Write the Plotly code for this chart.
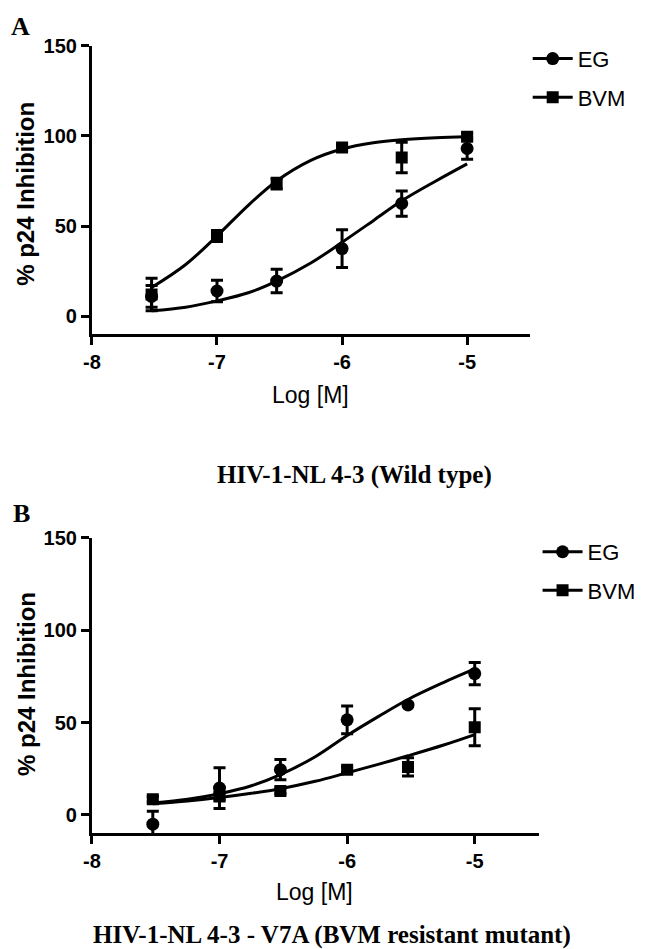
import plotly.graph_objects as go

# ---------------- data ----------------
log_conc = [-7.523, -7.0, -6.523, -6.0, -5.523, -5.0]

# Panel A (wild type)
a_eg_mean = [11, 14, 19.5, 37.5, 62.5, 93]
a_eg_err = [6, 6, 6.5, 10.5, 7, 6]
a_bvm_mean = [12, 44.5, 73.5, 93.5, 88, 99.5]
a_bvm_err = [9, 3, 3, 1.5, 8.5, 2]

# Panel B (V7A mutant)
b_eg_mean = [-5, 14.5, 24.5, 51.5, 59.5, 76.5]
b_eg_err = [7, 11, 5.5, 7.5, 1, 6]
b_bvm_mean = [8.5, 10, 13, 24.5, 26, 47.5]
b_bvm_err = [1.5, 2, 1.5, 1.5, 5, 10]

# fitted curves
curve_x = [-7.523, -7.25, -7.0, -6.75, -6.523, -6.25, -6.0, -5.75, -5.523, -5.25, -5.0]
a_eg_curve = [3, 5, 8.5, 13, 19.5, 29.5, 41, 53, 64, 75, 84.5]
a_bvm_curve = [15.9, 28.7, 44.5, 61.5, 75.0, 86.4, 92.7, 96.2, 97.9, 99.0, 99.5]
b_eg_curve = [6.5, 8.5, 11.5, 15.8, 21.8, 31.5, 43, 53.5, 62.5, 71.5, 79]
b_bvm_curve = [6, 7.5, 9.4, 11.7, 14.2, 18.2, 22.8, 27.5, 32, 37.7, 43.5]

x_ticks = [-8, -7, -6, -5]
x_tick_text = ["-8", "-7", "-6", "-5"]
y_ticks = [0, 50, 100, 150]
y_tick_text = ["0", "50", "100", "150"]

series_names = ["EG", "BVM"]
panel_letters = ["A", "B"]
captions = ["HIV-1-NL 4-3 (Wild type)", "HIV-1-NL 4-3 - V7A (BVM resistant mutant)"]
x_title = "Log [M]"
y_title = "% p24 Inhibition"

# ---------------- figure ----------------
PAGE_W, PAGE_H = 646, 949
OFF = 8  # default body margin of the html page
W, H = PAGE_W - OFF, PAGE_H - OFF
SANS = "Liberation Sans, Arial, sans-serif"
SERIF = "Liberation Serif, Times New Roman, serif"


def px(x):
    return (x - OFF) / W


def py(y):
    return 1 - (y - OFF) / H


fig = go.Figure()

panels = [
    dict(xa="x", ya="y", eg=(a_eg_mean, a_eg_err, a_eg_curve),
         bvm=(a_bvm_mean, a_bvm_err, a_bvm_curve), legend="legend"),
    dict(xa="x2", ya="y2", eg=(b_eg_mean, b_eg_err, b_eg_curve),
         bvm=(b_bvm_mean, b_bvm_err, b_bvm_curve), legend="legend2"),
]

for p in panels:
    for name, (mean, err, curve), sym, size in [
        ("EG", p["eg"], "circle", 13),
        ("BVM", p["bvm"], "square", 12),
    ]:
        fig.add_trace(go.Scatter(
            x=curve_x, y=curve, mode="lines", line=dict(color="black", width=3, shape="spline"),
            xaxis=p["xa"], yaxis=p["ya"], showlegend=False, hoverinfo="skip"))
        fig.add_trace(go.Scatter(
            x=log_conc, y=mean, mode="markers",
            marker=dict(symbol=sym, size=size, color="black"),
            error_y=dict(type="data", array=err, color="black", thickness=3, width=6),
            xaxis=p["xa"], yaxis=p["ya"], showlegend=False, name=name))
        # legend entry
        fig.add_trace(go.Scatter(
            x=[None], y=[None], mode="lines+markers", name=name,
            line=dict(color="black", width=3),
            marker=dict(symbol=sym, size=size, color="black"),
            xaxis=p["xa"], yaxis=p["ya"], legend=p["legend"], legendgroup=name + p["legend"]))

axis_common = dict(showline=True, linecolor="black", linewidth=3, ticks="outside", ticklen=8,
                   tickwidth=3, tickcolor="black", showgrid=False, zeroline=False,
                   tickfont=dict(family=SANS, size=20, color="black", weight="bold"))

fig.update_layout(
    width=W, height=H, margin=dict(l=0, r=0, t=0, b=0),
    paper_bgcolor="white", plot_bgcolor="white",
    xaxis=dict(domain=[px(84), px(528)], range=[-8, -4.5], anchor="y",
               tickvals=x_ticks, ticktext=x_tick_text, **axis_common),
    yaxis=dict(domain=[py(327), py(35)], range=[-10, 150], anchor="x",
               tickvals=y_ticks, ticktext=y_tick_text, **axis_common),
    xaxis2=dict(domain=[px(84), px(537)], range=[-8, -4.5], anchor="y2",
                tickvals=x_ticks, ticktext=x_tick_text, **axis_common),
    yaxis2=dict(domain=[py(832), py(533)], range=[-10, 150], anchor="x2",
                tickvals=y_ticks, ticktext=y_tick_text, **axis_common),
    legend=dict(x=px(526), y=py(27), xanchor="left", yanchor="top", itemwidth=40,
                font=dict(family=SANS, size=22, color="black"), bgcolor="rgba(0,0,0,0)",
                tracegroupgap=7),
    legend2=dict(x=px(536), y=py(526), xanchor="left", yanchor="top", itemwidth=40,
                 font=dict(family=SANS, size=22, color="black"), bgcolor="rgba(0,0,0,0)",
                 tracegroupgap=7),
    showlegend=True,
)

ann = []
# panel letters
for letter, (lx, ly) in zip(panel_letters, [(12, 16), (13, 508)]):
    ann.append(dict(text=letter, x=px(lx), y=py(ly), xref="paper", yref="paper",
                    xanchor="center", yanchor="middle", showarrow=False,
                    font=dict(family=SERIF, size=26, color="black", weight="bold")))
# y titles
for cy in [185, 681]:
    ann.append(dict(text=y_title, x=px(17), y=py(cy), xref="paper", yref="paper", textangle=-90,
                    xanchor="center", yanchor="middle", showarrow=False,
                    font=dict(family=SANS, size=24, color="black", weight="bold")))
# x titles
for cx, cy in [(306, 388), (310, 891)]:
    ann.append(dict(text=x_title, x=px(cx), y=py(cy), xref="paper", yref="paper",
                    xanchor="center", yanchor="middle", showarrow=False,
                    font=dict(family=SANS, size=23, color="black")))
# captions
for cap, (cx, cy) in zip(captions, [(350, 469), (327, 935)]):
    ann.append(dict(text=cap, x=px(cx), y=py(cy), xref="paper", yref="paper",
                    xanchor="center", yanchor="middle", showarrow=False,
                    font=dict(family=SERIF, size=25, color="black", weight="bold")))
fig.update_layout(annotations=ann)

fig.write_html("out.html")
